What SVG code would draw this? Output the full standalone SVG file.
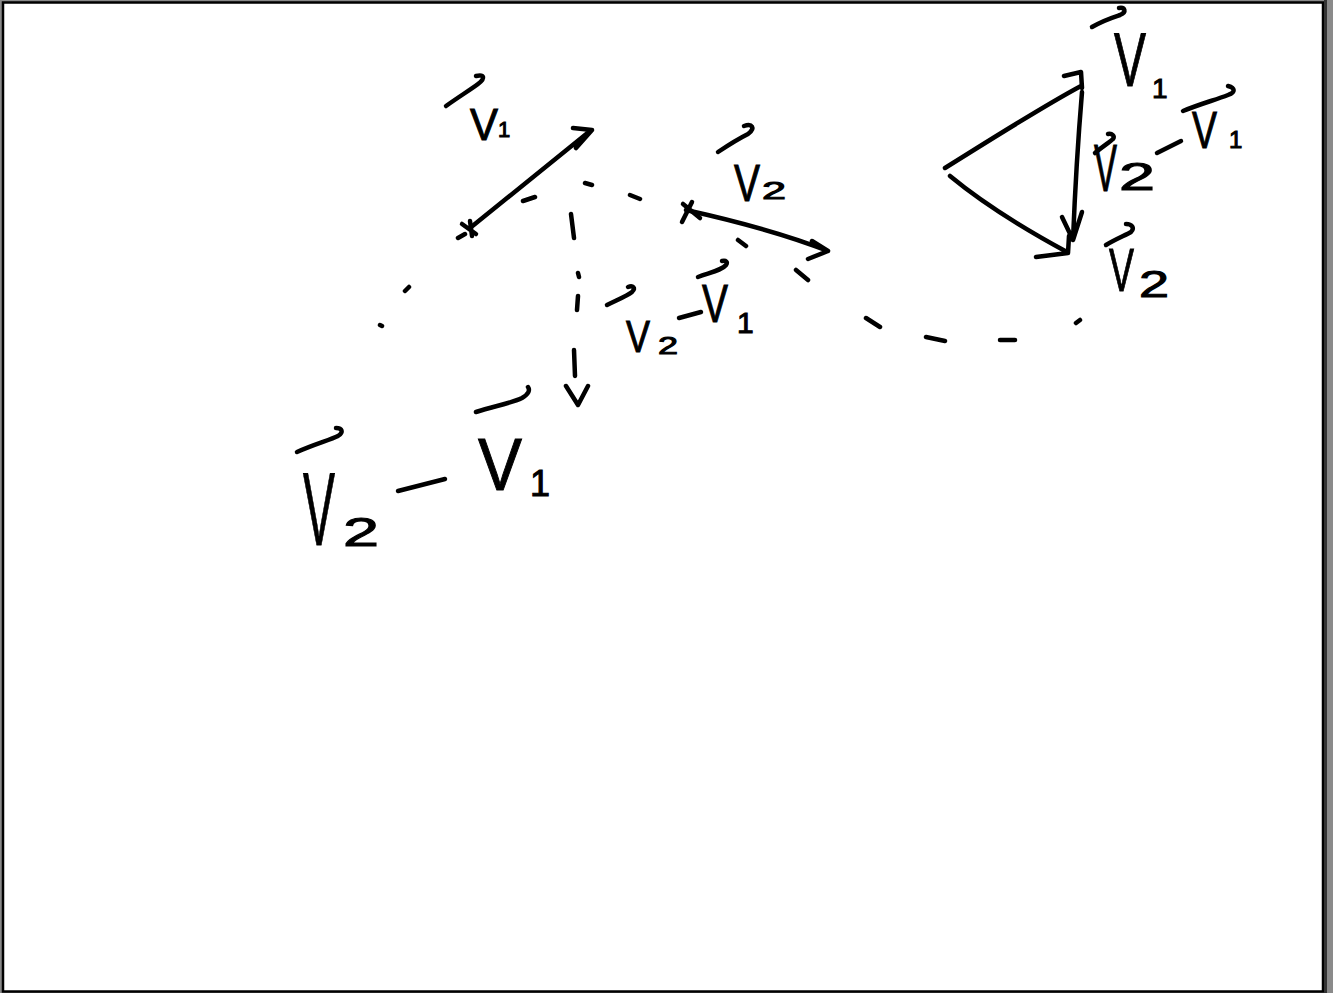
<svg xmlns="http://www.w3.org/2000/svg" width="1333" height="993" viewBox="0 0 1333 993">
<style>
.s{fill:none;stroke:#000;stroke-width:4.5;stroke-linecap:round;stroke-linejoin:round}
.t{font-family:"Liberation Sans","DejaVu Sans",sans-serif;fill:#000;stroke:#000;stroke-width:1}
</style>
<rect x="0" y="0" width="1333" height="993" fill="#8a8a8a"/>
<rect x="3" y="2.5" width="1320" height="989" fill="#fff" stroke="#000" stroke-width="2.5"/>
<line x1="1325.5" y1="0" x2="1325.5" y2="993" stroke="#333" stroke-width="3"/>

<g id="connectors">
  <path class="s" d="M470,228 L590,131 M573,128 L592,130 L576,148"/>
  <path class="s" d="M462,224 L476,234 M470,221 L472,236"/>
  <path class="s" d="M686,210 C740,222 790,236 828,251 M812,241 L828,251 L808,259"/>
  <path class="s" d="M683,204 L700,218 M692,202 L682,222"/>
  <path class="s" d="M380,325 L382,326 M405,291 L409,287 M458,238 L465,234 M523,201 L535,197 M585,183 L592,185 M630,195 L640,199 M738,240 L746,246 M796,270 L808,280 M866,318 L880,327 M926,337 L945,341 M1000,340 L1015,340 M1076,323 L1080,320"/>
  <path class="s" d="M571,214 L574,238 M578,273 L579,277 M578,296 L577,310 M574,350 L575,376 M566,386 L578,405 L588,386"/>
  <path class="s" d="M945,168 C990,140 1040,108 1081,86 M1064,76 L1081,72 L1082,88"/>
  <path class="s" d="M1082,92 C1078,140 1075,190 1073,240 M1062,217 L1073,240 L1082,212"/>
  <path class="s" d="M950,176 C985,205 1030,232 1067,252 M1036,257 L1068,253 L1069,236"/>
</g>

<g id="label-v1-left">
  <path class="s" d="M446,106 C460,96 470,90 478,84 C486,78 484,74 476,76"/>
  <text class="t"><tspan x="470" y="140" font-size="44" textLength="28" lengthAdjust="spacingAndGlyphs">V</tspan><tspan x="498" y="137" font-size="22">1</tspan></text>
</g>

<g id="label-v2-mid">
  <path class="s" d="M718,152 C730,144 740,138 748,134 C756,128 752,123 744,126"/>
  <text class="t"><tspan x="734" y="201" font-size="52" textLength="26" lengthAdjust="spacingAndGlyphs">V</tspan><tspan x="762" y="199" font-size="24" textLength="24" lengthAdjust="spacingAndGlyphs">2</tspan></text>
</g>

<g id="label-diff-mid">
  <path class="s" d="M607,305 C617,300 627,296 632,292 C636,288 633,285 628,287"/>
  <text class="t"><tspan x="626" y="352" font-size="44" textLength="24" lengthAdjust="spacingAndGlyphs">V</tspan><tspan x="658" y="354" font-size="24" textLength="20" lengthAdjust="spacingAndGlyphs">2</tspan></text>
  <path class="s" d="M679,318 L701,312"/>
  <path class="s" d="M698,277 C712,272 722,270 726,265 C728,262 726,260 722,261"/>
  <text class="t"><tspan x="702" y="322" font-size="54" textLength="26" lengthAdjust="spacingAndGlyphs">V</tspan><tspan x="737" y="333" font-size="30">1</tspan></text>
</g>

<g id="label-diff-big">
  <path class="s" d="M297,452 C315,444 330,440 338,436 C344,432 342,428 336,428"/>
  <text class="t"><tspan x="303" y="545" font-size="104" textLength="32" lengthAdjust="spacingAndGlyphs">V</tspan><tspan x="343" y="546" font-size="40" textLength="36" lengthAdjust="spacingAndGlyphs">2</tspan></text>
  <path class="s" d="M398,491 L445,479"/>
  <path class="s" d="M476,412 C495,406 512,403 522,398 C529,394 530,390 528,387"/>
  <text class="t"><tspan x="478" y="490" font-size="74" textLength="44" lengthAdjust="spacingAndGlyphs">V</tspan><tspan x="530" y="496" font-size="36">1</tspan></text>
</g>

<g id="label-v1-right">
  <path class="s" d="M1092,27 C1104,20 1114,17 1120,15 C1127,12 1125,7 1119,8"/>
  <text class="t"><tspan x="1114" y="86" font-size="76" textLength="32" lengthAdjust="spacingAndGlyphs">V</tspan><tspan x="1152" y="98" font-size="28">1</tspan></text>
</g>

<g id="label-diff-right">
  <path class="s" d="M1095,153 C1103,146 1110,142 1113,139 C1115,136 1112,133 1108,134"/>
  <text class="t"><tspan x="1094" y="191" font-size="66" textLength="23" lengthAdjust="spacingAndGlyphs">V</tspan><tspan x="1119" y="190" font-size="38" textLength="36" lengthAdjust="spacingAndGlyphs">2</tspan></text>
  <path class="s" d="M1157,153 L1181,141"/>
  <path class="s" d="M1183,111 C1200,104 1215,100 1228,95 C1236,92 1235,88 1228,86"/>
  <text class="t"><tspan x="1192" y="148" font-size="52" textLength="25" lengthAdjust="spacingAndGlyphs">V</tspan><tspan x="1229" y="148" font-size="24">1</tspan></text>
</g>

<g id="label-v2-right">
  <path class="s" d="M1106,245 C1116,239 1126,235 1131,232 C1135,228 1132,224 1126,224"/>
  <text class="t"><tspan x="1109" y="291" font-size="62" textLength="25" lengthAdjust="spacingAndGlyphs">V</tspan><tspan x="1139" y="297" font-size="36" textLength="30" lengthAdjust="spacingAndGlyphs">2</tspan></text>
</g>
</svg>
